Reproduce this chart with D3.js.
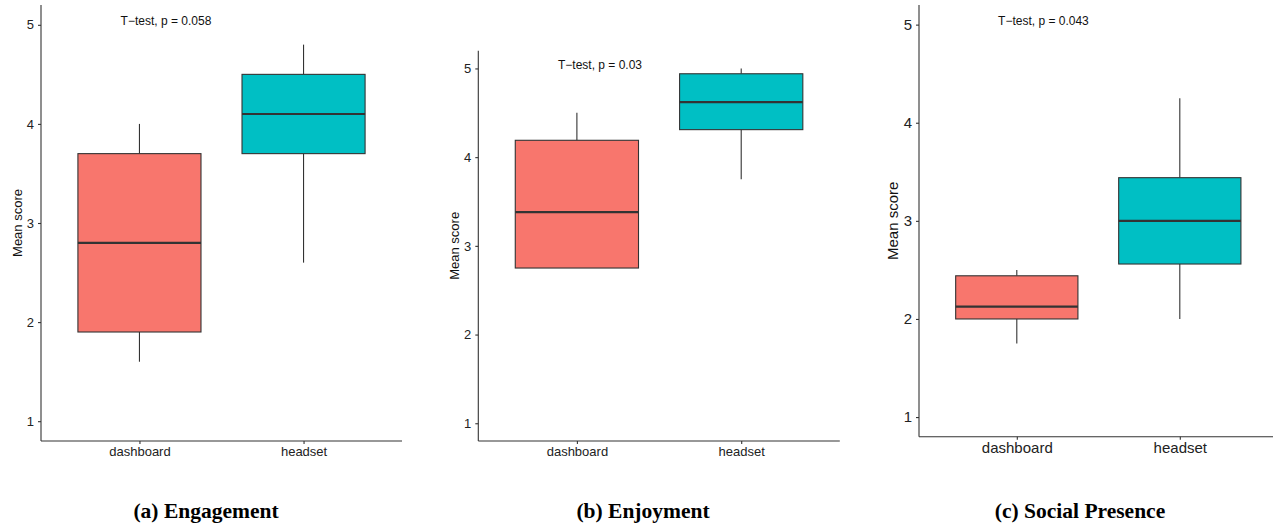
<!DOCTYPE html>
<html>
<head>
<meta charset="utf-8">
<script src="https://cdn.jsdelivr.net/npm/d3@7"></script>
<style>
  html, body { margin: 0; padding: 0; background: #fff; }
  svg { display: block; }
</style>
</head>
<body>
<svg id="chart" width="1273" height="525"></svg>
<script>
// ---- data ----
const groups = ["dashboard", "headset"];
const yTicks = [1, 2, 3, 4, 5];
// [lower whisker, Q1, median, Q3, upper whisker]
const engagementStats = [[1.6, 1.9, 2.8, 3.7, 4.0], [2.6, 3.7, 4.1, 4.5, 4.8]];
const enjoymentStats  = [[2.75, 2.75, 3.38, 4.19, 4.5], [3.75, 4.31, 4.62, 4.94, 5.0]];
const socialStats     = [[1.75, 2.0, 2.125, 2.44, 2.5], [2.0, 2.56, 3.0, 3.44, 4.25]];
const pLabels = ["T\u2212test, p = 0.058", "T\u2212test, p = 0.03", "T\u2212test, p = 0.043"];
const captions = ["(a) Engagement", "(b) Enjoyment", "(c) Social Presence"];
const yTitle = "Mean score";
const fills = ["#F8766D", "#00BFC4"];

// ---- layout ----
const panels = [
  { stats: engagementStats, p: pLabels[0], cap: captions[0], x0: 41,    x1: 402,    top: 5,    bottom: 441,   fs: 13, capX: 206 },
  { stats: enjoymentStats,  p: pLabels[1], cap: captions[1], x0: 478.3, x1: 839.8,  top: 50.7, bottom: 441,   fs: 13, capX: 643 },
  { stats: socialStats,     p: pLabels[2], cap: captions[2], x0: 919,   x1: 1277.6, top: 5,    bottom: 436.7, fs: 15, capX: 1080 }
];

const svg = d3.select("#chart");
const ink = "#333333";

panels.forEach(P => {
  const g = svg.append("g");
  const y = d3.scaleLinear().domain([0.8, 5.2]).range([P.bottom, P.top]);
  const x = d3.scaleLinear().domain([0.4, 2.6]).range([P.x0, P.x1]);
  const bw = 0.75;

  // boxes
  P.stats.forEach((s, i) => {
    const cx = x(i + 1);
    const [lo, q1, med, q3, hi] = s;
    g.append("line").attr("x1", cx).attr("x2", cx).attr("y1", y(hi)).attr("y2", y(q3))
      .attr("stroke", ink).attr("stroke-width", 1.1);
    g.append("line").attr("x1", cx).attr("x2", cx).attr("y1", y(q1)).attr("y2", y(lo))
      .attr("stroke", ink).attr("stroke-width", 1.1);
    g.append("rect")
      .attr("x", x(i + 1 - bw / 2)).attr("width", x(i + 1 + bw / 2) - x(i + 1 - bw / 2))
      .attr("y", y(q3)).attr("height", y(q1) - y(q3))
      .attr("fill", fills[i]).attr("stroke", ink).attr("stroke-width", 1.1);
    g.append("line").attr("x1", x(i + 1 - bw / 2)).attr("x2", x(i + 1 + bw / 2))
      .attr("y1", y(med)).attr("y2", y(med))
      .attr("stroke", ink).attr("stroke-width", 2.2);
  });

  // y axis
  const ya = g.append("g").attr("transform", `translate(${P.x0},0)`)
    .call(d3.axisLeft(y).tickValues(yTicks).tickFormat(d3.format("d")).tickSize(3).tickPadding(4));
  ya.select(".domain").attr("stroke", ink).attr("stroke-width", 1.1).attr("d", `M0,${P.top}V${P.bottom}`);
  ya.selectAll(".tick line").attr("stroke", ink).attr("stroke-width", 1.1);
  ya.selectAll(".tick text").attr("fill", "#222").style("font-family", "Liberation Sans, Arial, sans-serif").style("font-size", P.fs + "px");

  // x axis
  const xa = g.append("g").attr("transform", `translate(0,${P.bottom})`)
    .call(d3.axisBottom(x).tickValues([1, 2]).tickFormat(d => groups[d - 1]).tickSize(3).tickPadding(3));
  xa.select(".domain").attr("stroke", ink).attr("stroke-width", 1.1).attr("d", `M${P.x0},0H${P.x1}`);
  xa.selectAll(".tick line").attr("stroke", ink).attr("stroke-width", 1.1);
  xa.selectAll(".tick text").attr("fill", "#222").style("font-family", "Liberation Sans, Arial, sans-serif").style("font-size", P.fs + "px");

  // y title
  const midY = (P.top + P.bottom) / 2;
  g.append("text")
    .attr("transform", `translate(${P.x0 - 24 - (P.fs - 13)},${midY}) rotate(-90)`)
    .attr("text-anchor", "middle").attr("dy", "0.35em")
    .style("font-family", "Liberation Sans, Arial, sans-serif").style("font-size", P.fs + "px")
    .attr("fill", "#111").text(yTitle);

  // p-value label
  g.append("text")
    .attr("x", x(0.885)).attr("y", y(5.04)).attr("dy", "0.35em")
    .style("font-family", "Liberation Sans, Arial, sans-serif").style("font-size", "12px")
    .attr("fill", "#111").text(P.p);

  // caption
  svg.append("text")
    .attr("x", P.capX).attr("y", 518).attr("text-anchor", "middle")
    .style("font-family", "Liberation Serif, Times New Roman, serif").style("font-weight", "bold").style("font-size", "21.5px")
    .attr("fill", "#000").text(P.cap);
});
</script>
</body>
</html>
